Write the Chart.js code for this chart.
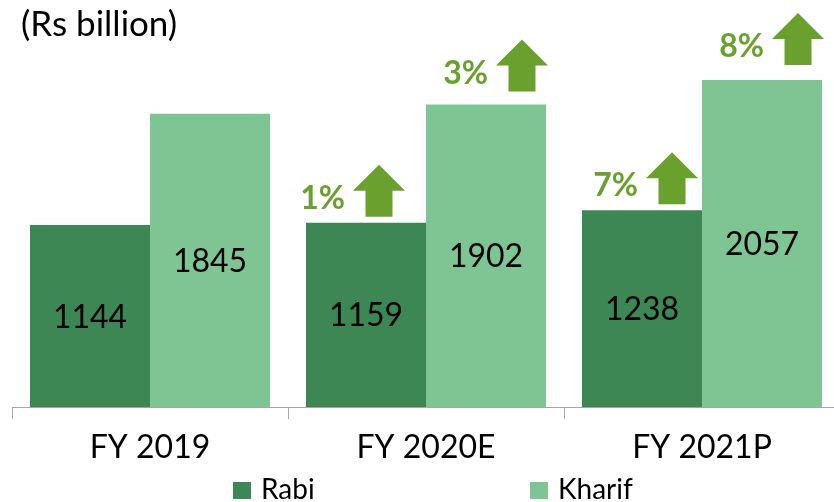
<!DOCTYPE html>
<html>
<head>
<meta charset="utf-8">
<script src="https://cdn.jsdelivr.net/npm/chart.js@4.4.1/dist/chart.umd.min.js"></script>
<style>
    html, body { margin: 0; padding: 0; overflow: hidden; background: #fff; }
    #wrap { position: relative; width: 846px; height: 502px; }
</style>
</head>
<body>
<div id="wrap"><canvas id="cropChart" width="846" height="502"></canvas></div>
<script>
// Values (Rs billion)
const categories = ['FY 2019', 'FY 2020E', 'FY 2021P'];
const rabiValues = [1144, 1159, 1238];
const kharifValues = [1845, 1902, 2057];
const rabiGrowth = [null, 1, 7];     // % change vs previous year
const kharifGrowth = [null, 3, 8];
const unitLabel = '(Rs billion)';

const RABI_COLOR = '#3d8754';
const KHARIF_COLOR = '#7fc594';
const ARROW_COLOR = '#6aa12e';
const FONT = 'Lato, "Open Sans", sans-serif';

// hand-tuned arrow placement (x shift from bar centre, gap above bar)
const arrowNudge = [
    [null, [13, 6], [30, 6]],
    [null, [36, 13], [36, 15]]
];

function drawArrow(ctx, cx, bottom) {
    const w = 52, h = 52, head = 26, shaft = 27;
    const top = bottom - h;
    ctx.beginPath();
    ctx.moveTo(cx, top);
    ctx.lineTo(cx + w / 2, top + head);
    ctx.lineTo(cx + shaft / 2, top + head);
    ctx.lineTo(cx + shaft / 2, bottom);
    ctx.lineTo(cx - shaft / 2, bottom);
    ctx.lineTo(cx - shaft / 2, top + head);
    ctx.lineTo(cx - w / 2, top + head);
    ctx.closePath();
    ctx.fill();
}

const overlayPlugin = {
    id: 'overlay',
    afterDatasetsDraw(chart) {
        const ctx = chart.ctx;
        const growth = [rabiGrowth, kharifGrowth];
        ctx.save();

        chart.data.datasets.forEach((ds, di) => {
            chart.getDatasetMeta(di).data.forEach((bar, i) => {
                // value label, centred in the bar
                ctx.fillStyle = '#000';
                ctx.font = '32px ' + FONT;
                ctx.textAlign = 'center';
                ctx.textBaseline = 'alphabetic';
                ctx.fillText(ds.data[i], bar.x, (bar.y + bar.base) / 2 + 11.5);

                // growth arrow + percentage
                const g = growth[di][i];
                if (g === null) return;
                const [dx, gap] = arrowNudge[di][i];
                const cx = bar.x + dx;
                const bottom = bar.y - gap;
                ctx.fillStyle = ARROW_COLOR;
                drawArrow(ctx, cx, bottom);
                ctx.font = 'bold 32px ' + FONT;
                ctx.textAlign = 'right';
                ctx.fillText(g + '%', cx - 26 - 8, bottom - 8);
            });
        });

        // unit label, top left
        ctx.fillStyle = '#000';
        ctx.font = '35px ' + FONT;
        ctx.textAlign = 'left';
        ctx.fillText(unitLabel, 21, 36);

        // legend
        const legendX = [233, 530];
        ctx.font = '28px ' + FONT;
        chart.data.datasets.forEach((ds, di) => {
            ctx.fillStyle = ds.backgroundColor;
            ctx.fillRect(legendX[di], 482, 18, 17);
            ctx.fillStyle = '#000';
            ctx.fillText(ds.label, legendX[di] + 28, 499);
        });
        ctx.restore();
    }
};

const ctx = document.getElementById('cropChart').getContext('2d');
const cropChart = new Chart(ctx, {
    type: 'bar',
    data: {
        labels: categories,
        datasets: [
            {
                label: 'Rabi',
                data: rabiValues,
                backgroundColor: RABI_COLOR,
                borderWidth: 0
            },
            {
                label: 'Kharif',
                data: kharifValues,
                backgroundColor: KHARIF_COLOR,
                borderWidth: 0
            }
        ]
    },
    options: {
        responsive: false,
        animation: false,
        layout: {
            padding: { left: 12, right: 6, top: 9.5, bottom: 26.6 }
        },
        plugins: {
            legend: { display: false },
            title: { display: false },
            tooltip: { enabled: false }
        },
        datasets: {
            bar: {
                categoryPercentage: 240 / 276,
                barPercentage: 1
            }
        },
        scales: {
            x: {
                offset: true,
                grid: {
                    offset: true,
                    drawOnChartArea: false,
                    drawTicks: true,
                    tickLength: 12,
                    color: '#a6a6a6'
                },
                border: { display: true, color: '#a6a6a6', width: 1 },
                ticks: {
                    color: '#000',
                    padding: 9,
                    font: { family: FONT, size: 32 }
                }
            },
            y: {
                display: false,
                min: 0,
                max: 2500
            }
        }
    },
    plugins: [overlayPlugin]
});
</script>
</body>
</html>
